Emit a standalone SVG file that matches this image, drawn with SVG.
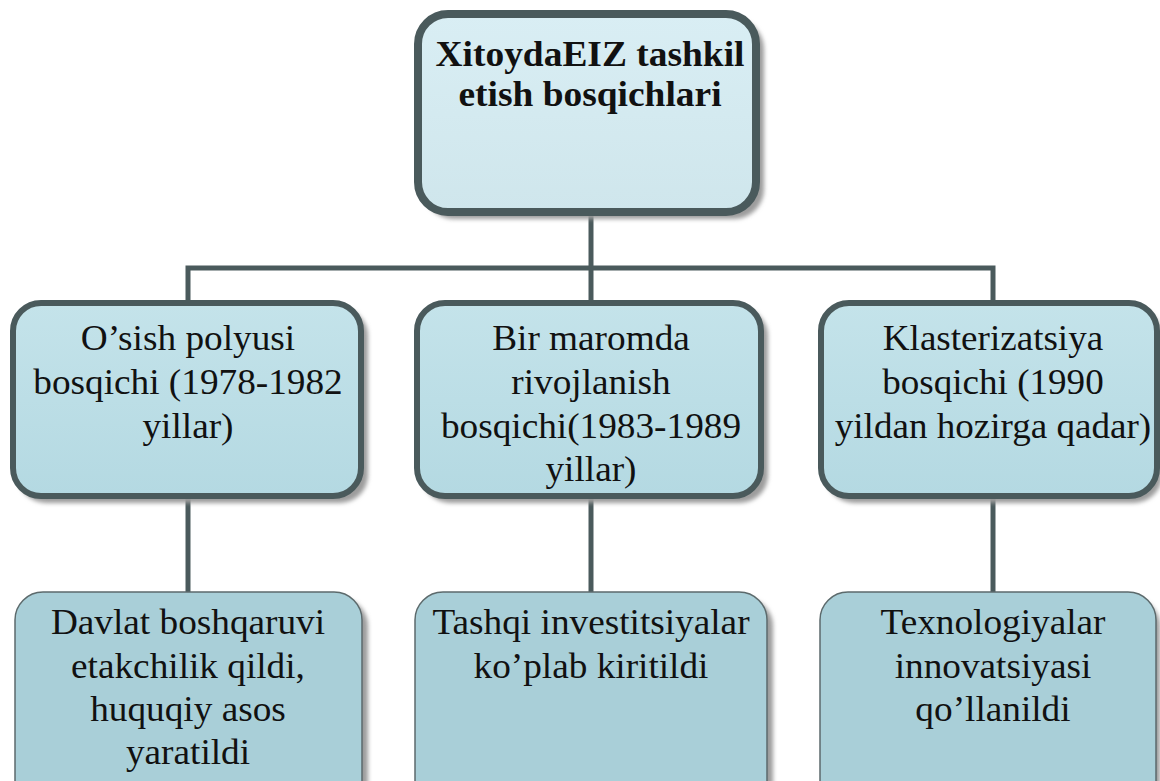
<svg xmlns="http://www.w3.org/2000/svg" width="1160" height="781" viewBox="0 0 1160 781">
<defs>
<linearGradient id="gTop" x1="0" y1="0" x2="0" y2="1"><stop offset="0" stop-color="#d9eef4"/><stop offset="1" stop-color="#cfe6ec"/></linearGradient>
<linearGradient id="gMid" x1="0" y1="0" x2="0" y2="1"><stop offset="0" stop-color="#c4e3ea"/><stop offset="1" stop-color="#b4d9e2"/></linearGradient>
<filter id="sh" x="-10%" y="-10%" width="130%" height="130%"><feGaussianBlur stdDeviation="2"/></filter>
</defs>
<style>
.shadow{fill:#9c9c9c;filter:url(#sh)}
.top{fill:url(#gTop);stroke:#4a5a5c;stroke-width:8}
.mid{fill:url(#gMid);stroke:#4a5a5c;stroke-width:6}
.bot{fill:#a9cfd8;stroke:#5c6a6c;stroke-width:1.5}
.conn{stroke:#4a5a5c;stroke-width:5;fill:none}
.tx{font-family:'Liberation Serif','DejaVu Serif','Times New Roman',serif;fill:#111;text-anchor:middle}
.t{font-size:36px;font-weight:bold}
.m{font-size:35px}
</style>
<rect width="1160" height="781" fill="#ffffff"/>
<g id="connectors">
<line class="conn" x1="591" y1="212" x2="591" y2="268"/>
<polyline class="conn" points="188,302 188,268 993,268 993,302"/>
<line class="conn" x1="591" y1="268" x2="591" y2="302"/>
<line class="conn" x1="188" y1="497" x2="188" y2="592"/>
<line class="conn" x1="591" y1="497" x2="591" y2="592"/>
<line class="conn" x1="993" y1="497" x2="993" y2="592"/>
</g>
<g id="node-top">
<rect class="shadow" x="424" y="19" width="340" height="200" rx="30"/>
<rect class="top" x="418" y="14" width="338" height="198" rx="30"/>
<g transform="translate(590 0) scale(1.04 1) translate(-590 0)">
<text class="tx t" x="590" y="66">XitoydaEIZ tashkil</text>
<text class="tx t" x="590" y="106">etish bosqichlari</text>
</g>
</g>
<g id="node-mid1">
<rect class="shadow" x="18" y="308" width="350" height="195" rx="28"/>
<rect class="mid" x="13" y="303" width="348" height="193" rx="28"/>
<g transform="translate(188 0) scale(1.065 1) translate(-188 0)">
<text class="tx m" x="188" y="350">O’sish polyusi</text>
<text class="tx m" x="188" y="394">bosqichi (1978-1982</text>
<text class="tx m" x="188" y="438">yillar)</text>
</g>
</g>
<g id="node-mid2">
<rect class="shadow" x="422" y="308" width="346" height="195" rx="28"/>
<rect class="mid" x="417" y="303" width="344" height="193" rx="28"/>
<g transform="translate(591 0) scale(1.065 1) translate(-591 0)">
<text class="tx m" x="591" y="350">Bir maromda</text>
<text class="tx m" x="591" y="394">rivojlanish</text>
<text class="tx m" x="591" y="438">bosqichi(1983-1989</text>
<text class="tx m" x="591" y="481">yillar)</text>
</g>
</g>
<g id="node-mid3">
<rect class="shadow" x="826" y="308" width="336" height="195" rx="28"/>
<rect class="mid" x="821" y="303" width="336" height="193" rx="28"/>
<g transform="translate(993 0) scale(1.06 1) translate(-993 0)">
<text class="tx m" x="993" y="350">Klasterizatsiya</text>
<text class="tx m" x="993" y="394">bosqichi (1990</text>
<text class="tx m" x="993" y="438">yildan hozirga qadar)</text>
</g>
</g>
<g id="node-bot1">
<rect class="shadow" x="21" y="598" width="347" height="220" rx="28"/>
<rect class="bot" x="15" y="592" width="347" height="220" rx="28"/>
<g transform="translate(188 0) scale(1.065 1) translate(-188 0)">
<text class="tx m" x="188" y="634">Davlat boshqaruvi</text>
<text class="tx m" x="188" y="678">etakchilik qildi,</text>
<text class="tx m" x="188" y="721">huquqiy asos</text>
<text class="tx m" x="188" y="764">yaratildi</text>
</g>
</g>
<g id="node-bot2">
<rect class="shadow" x="421" y="598" width="352" height="220" rx="28"/>
<rect class="bot" x="415" y="592" width="352" height="220" rx="28"/>
<g transform="translate(591 0) scale(1.065 1) translate(-591 0)">
<text class="tx m" x="591" y="634">Tashqi investitsiyalar</text>
<text class="tx m" x="591" y="678">ko’plab kiritildi</text>
</g>
</g>
<g id="node-bot3">
<rect class="shadow" x="826" y="598" width="334" height="220" rx="28"/>
<rect class="bot" x="820" y="592" width="336" height="220" rx="28"/>
<g transform="translate(993 0) scale(1.065 1) translate(-993 0)">
<text class="tx m" x="993" y="634">Texnologiyalar</text>
<text class="tx m" x="993" y="678">innovatsiyasi</text>
<text class="tx m" x="993" y="721">qo’llanildi</text>
</g>
</g>
</svg>
